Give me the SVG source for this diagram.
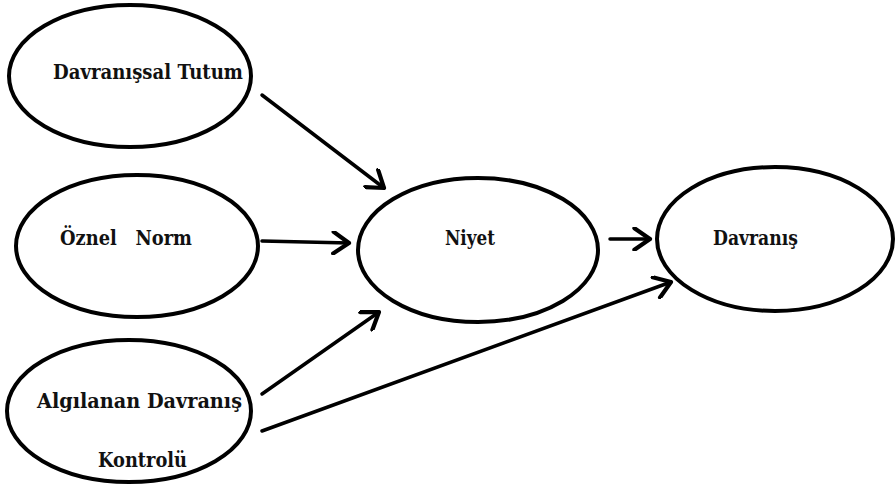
<svg xmlns="http://www.w3.org/2000/svg" width="895" height="489" viewBox="0 0 895 489">
<style>
.node ellipse{fill:#fff;stroke:#000;stroke-width:4}
.node text{font-family:"DejaVu Serif","Liberation Serif",serif;font-weight:bold;font-size:20px;fill:#111}
.edges line{stroke:#000;stroke-width:3.5;fill:none;stroke-linecap:round}
</style>
<defs>
<marker id="arr" markerUnits="userSpaceOnUse" markerWidth="24" markerHeight="24" refX="15" refY="10" orient="auto" viewBox="0 0 20 20">
<path d="M2,1 L15,10 L2,19" fill="none" stroke="#000" stroke-width="3.5" stroke-linecap="round" stroke-linejoin="round"/>
</marker>
</defs>
<rect width="895" height="489" fill="#fff"/>
<g id="tutum" class="node">
<ellipse cx="130" cy="76" rx="121" ry="71"/>
<text x="53" y="79" textLength="190" lengthAdjust="spacingAndGlyphs">Davranışsal Tutum</text>
</g>
<g id="norm" class="node">
<ellipse cx="137" cy="246" rx="121" ry="71"/>
<text x="60" y="245" xml:space="preserve" textLength="132" lengthAdjust="spacingAndGlyphs">Öznel   Norm</text>
</g>
<g id="kontrol" class="node">
<ellipse cx="129" cy="411" rx="122" ry="71"/>
<text x="37" y="408" textLength="205" lengthAdjust="spacingAndGlyphs">Algılanan Davranış</text>
<text x="98" y="467" textLength="89" lengthAdjust="spacingAndGlyphs">Kontrolü</text>
</g>
<g id="niyet" class="node">
<ellipse cx="478" cy="250" rx="120" ry="72"/>
<text x="445" y="245" textLength="50" lengthAdjust="spacingAndGlyphs">Niyet</text>
</g>
<g id="davranis" class="node">
<ellipse cx="775" cy="239" rx="118" ry="72"/>
<text x="713" y="245" textLength="85" lengthAdjust="spacingAndGlyphs">Davranış</text>
</g>
<g id="edges" class="edges">
<line x1="262" y1="95" x2="384" y2="188" marker-end="url(#arr)"/>
<line x1="262" y1="241" x2="349" y2="243" marker-end="url(#arr)"/>
<line x1="262" y1="394" x2="379" y2="312" marker-end="url(#arr)"/>
<line x1="262" y1="431" x2="671" y2="282" marker-end="url(#arr)"/>
<line x1="610" y1="239" x2="650" y2="239" marker-end="url(#arr)"/>
</g>
</svg>
